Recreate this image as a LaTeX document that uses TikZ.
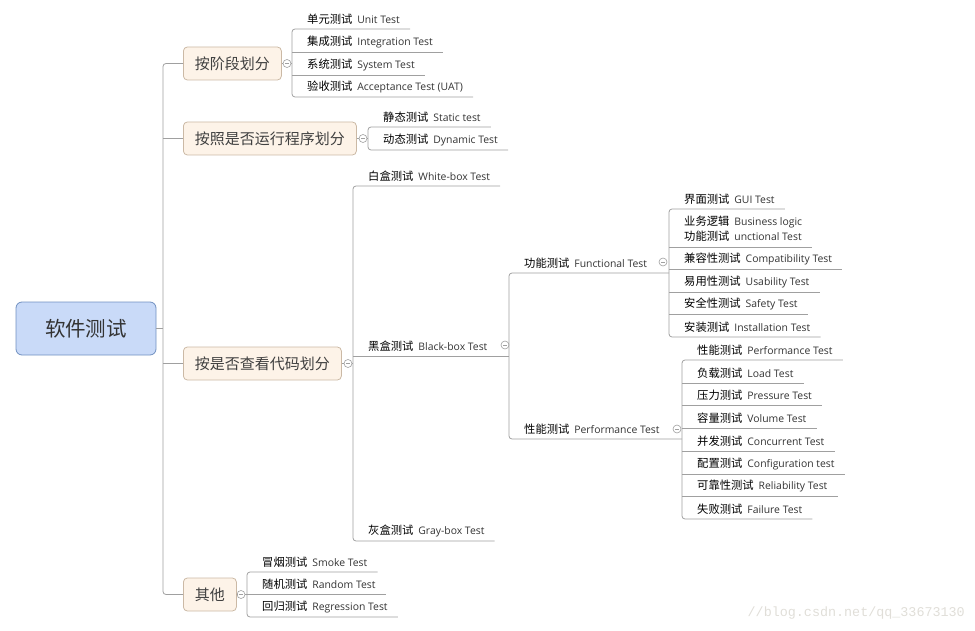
\documentclass[tikz,border=0pt]{standalone}
\usepackage{fontspec}
\setmainfont{Open Sans}
\newfontfamily\cjk{Noto Sans CJK SC}
\newfontfamily\wmfont{Liberation Mono}
\definecolor{lineg}{HTML}{A0A0A0}
\definecolor{rootfill}{HTML}{C9DAF8}
\definecolor{rootdraw}{HTML}{7090C0}
\definecolor{subfill}{HTML}{FDF3E8}
\definecolor{subdraw}{HTML}{CBB9A5}
\definecolor{txt}{HTML}{333333}
\definecolor{wmgray}{HTML}{E0DED8}
\newcommand\cn[1]{{\cjk\fontsize{11.3}{15}\selectfont\color{black}#1}\hspace{5pt}}
\tikzset{
  branch/.style={draw=lineg, line width=0.8pt},
  spine/.style={branch, rounded corners=3pt},
  roottopic/.style={draw=rootdraw, fill=rootfill, rounded corners=6pt, line width=0.8pt, minimum width=140pt, minimum height=53pt, font=\cjk\fontsize{20.5}{24}\selectfont, text=black!80},
  maintopic/.style={draw=subdraw, fill=subfill, rounded corners=4pt, line width=0.8pt, minimum height=33pt, inner xsep=11.5pt, anchor=west, font=\cjk\fontsize{15}{18}\selectfont, text=black!75},
  leaf/.style={anchor=south west, minimum height=20pt, inner xsep=0pt, inner ysep=0pt, font=\fontsize{10.4}{15}\selectfont, text=txt},
  fold/.style={circle, draw=lineg, fill=white, line width=0.6pt, minimum size=8pt, inner sep=0pt,
    path picture={\draw[lineg, line width=0.6pt] ([xshift=-2pt]path picture bounding box.center) -- ([xshift=2pt]path picture bounding box.center);}},
  wm/.style={anchor=east, font=\wmfont\fontsize{13.4}{15}\selectfont, text=wmgray, inner sep=0pt}
}
\begin{document}
\begin{tikzpicture}[x=1pt, y=-1pt]
  \useasboundingbox (0,0) rectangle (975,631);
  % root and main topics
  \node[roottopic] (root) at (86,328.5) {软件测试};
  \node[maintopic] (stage) at (183,63.5) {按阶段划分};
  \node[maintopic] (run) at (183,138.5) {按照是否运行程序划分};
  \node[maintopic] (code) at (183,363.5) {按是否查看代码划分};
  \node[maintopic] (other) at (183,594.5) {其他};
  \coordinate (trunk) at (163,328.5);
  \draw[spine] (stage.west) -| (trunk) |- (other.west);
  \draw[branch] (run.west) -- (run.west -| trunk); \draw[branch] (code.west) -- (code.west -| trunk);
  \draw[branch] (root.east) -- (trunk);

  % spines
  \coordinate (sA) at (292,63.5); \coordinate (sB) at (368,138.5); \coordinate (sC) at (353,363.5); \coordinate (sD) at (247,594.5);
  \coordinate (sK) at (509,356); \coordinate (sF) at (669,273); \coordinate (sP) at (682,439);

  % leaves
  \node[leaf] (a1) at (307,29) {\cn{单元测试}Unit Test};
  \node[leaf] (a2) at (307,52) {\cn{集成测试}Integration Test};
  \node[leaf] (a3) at (307,75) {\cn{系统测试}System Test};
  \node[leaf] (a4) at (307,97) {\cn{验收测试}Acceptance Test (UAT)};
  \node[leaf] (b1) at (383,127) {\cn{静态测试}Static test};
  \node[leaf] (b2) at (383,150) {\cn{动态测试}Dynamic Test};
  \node[leaf] (c1) at (368,186) {\cn{白盒测试}White-box Test};
  \node[leaf] (c2) at (368,356) {\cn{黑盒测试}Black-box Test};
  \node[leaf] (c3) at (368,541) {\cn{灰盒测试}Gray-box Test};
  \node[leaf] (k1) at (524,273) {\cn{功能测试}Functional Test};
  \node[leaf] (k2) at (524,439) {\cn{性能测试}Performance Test};
  \node[leaf] (f1) at (684,209) {\cn{界面测试}GUI Test};
  \node[leaf, align=left, inner ysep=5pt] (f2) at (684,247) {\cn{业务逻辑}Business logic\\\cn{功能测试}unctional Test};
  \node[leaf] (f3) at (684,269) {\cn{兼容性测试}Compatibility Test};
  \node[leaf] (f4) at (684,292) {\cn{易用性测试}Usability Test};
  \node[leaf] (f5) at (684,314) {\cn{安全性测试}Safety Test};
  \node[leaf] (f6) at (684,337) {\cn{安装测试}Installation Test};
  \node[leaf] (p1) at (697,360) {\cn{性能测试}Performance Test};
  \node[leaf] (p2) at (697,383) {\cn{负载测试}Load Test};
  \node[leaf] (p3) at (697,405) {\cn{压力测试}Pressure Test};
  \node[leaf] (p4) at (697,428) {\cn{容量测试}Volume Test};
  \node[leaf] (p5) at (697,451) {\cn{并发测试}Concurrent Test};
  \node[leaf] (p6) at (697,474) {\cn{配置测试}Configuration test};
  \node[leaf] (p7) at (697,496) {\cn{可靠性测试}Reliability Test};
  \node[leaf] (p8) at (697,519) {\cn{失败测试}Failure Test};
  \node[leaf] (d1) at (262,572) {\cn{冒烟测试}Smoke Test};
  \node[leaf] (d2) at (262,594) {\cn{随机测试}Random Test};
  \node[leaf] (d3) at (262,617) {\cn{回归测试}Regression Test};

  % fold points
  \node[fold] (fstage) at (287,63.5) {}; \node[fold] (frun) at (363,138.5) {};
  \node[fold] (fcode) at (348,363.5) {}; \node[fold] (fother) at (241,594.5) {};
  \node[fold] (fblack) at (505,345) {}; \node[fold] (ffunc) at (663,262) {}; \node[fold] (fperf) at (677,429) {};

  % stage
  \draw[branch] (stage) -- (fstage) -- (sA);
  \draw[spine] ([xshift=10pt]a1.south east) -- (a1.south -| sA) -- (a4.south -| sA) -- ([xshift=10pt]a4.south east);
  \draw[branch] (a2.south -| sA) -- ([xshift=10pt]a2.south east); \draw[branch] (a3.south -| sA) -- ([xshift=10pt]a3.south east);
  % run
  \draw[branch] (run) -- (frun) -- (sB);
  \draw[spine] ([xshift=10pt]b1.south east) -- (b1.south -| sB) -- (b2.south -| sB) -- ([xshift=10pt]b2.south east);
  % code
  \draw[branch] (code) -- (fcode) -- (sC);
  \draw[spine] ([xshift=10pt]c1.south east) -- (c1.south -| sC) -- (c3.south -| sC) -- ([xshift=10pt]c3.south east);
  \draw[branch] (c2.south -| sC) -- (sK);
  % black box
  \draw[spine] (sF) -- (k1.south -| sK) -- (k2.south -| sK) -- (sP);
  % functional
  \draw[spine] ([xshift=10pt]f1.south east) -- (f1.south -| sF) -- (f6.south -| sF) -- ([xshift=10pt]f6.south east);
  \draw[branch] (f2.south -| sF) -- ([xshift=10pt]f2.south east); \draw[branch] (f3.south -| sF) -- ([xshift=10pt]f3.south east);
  \draw[branch] (f4.south -| sF) -- ([xshift=10pt]f4.south east); \draw[branch] (f5.south -| sF) -- ([xshift=10pt]f5.south east);
  % performance
  \draw[spine] ([xshift=10pt]p1.south east) -- (p1.south -| sP) -- (p8.south -| sP) -- ([xshift=10pt]p8.south east);
  \draw[branch] (p2.south -| sP) -- ([xshift=10pt]p2.south east); \draw[branch] (p3.south -| sP) -- ([xshift=10pt]p3.south east);
  \draw[branch] (p4.south -| sP) -- ([xshift=10pt]p4.south east); \draw[branch] (p5.south -| sP) -- ([xshift=10pt]p5.south east);
  \draw[branch] (p6.south -| sP) -- ([xshift=10pt]p6.south east); \draw[branch] (p7.south -| sP) -- ([xshift=10pt]p7.south east);
  % other
  \draw[branch] (other) -- (fother) -- (sD);
  \draw[spine] ([xshift=10pt]d1.south east) -- (d1.south -| sD) -- (d3.south -| sD) -- ([xshift=10pt]d3.south east);
  \draw[branch] (d2.south -| sD) -- ([xshift=10pt]d2.south east);

  % watermark
  \node[wm] (mark) at (965,613) {//blog.csdn.net/qq\_33673130};
\end{tikzpicture}
\end{document}
